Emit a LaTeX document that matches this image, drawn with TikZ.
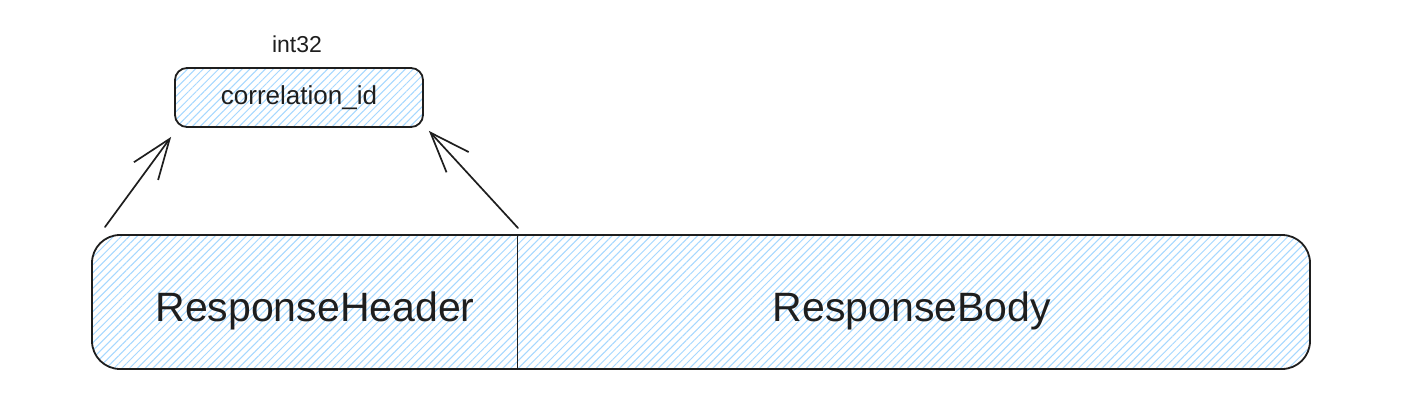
\documentclass[tikz,border=0pt]{standalone}
\usepackage{fontspec}
\setmainfont{Liberation Sans}
\usetikzlibrary{patterns.meta,arrows.meta,calc}
\definecolor{ink}{HTML}{1E1E1E}
\definecolor{hatch}{HTML}{A5D8FF}
\tikzset{
  hbox/.style={draw=ink, line width=1.8pt,
    preaction={fill=white},
    preaction={pattern={Lines[angle=45,distance=5.5pt,line width=1pt]}, pattern color=hatch},
    inner sep=0pt},
  bigtext/.style={font=\fontsize{41}{48}\selectfont, text=ink, inner sep=0pt},
  smalltext/.style={font=\fontsize{26}{30}\selectfont, text=ink, inner sep=0pt},
  typetext/.style={font=\fontsize{23}{27}\selectfont, text=ink, inner sep=0pt},
  conn/.style={draw=ink, line width=1.7pt, line cap=round, line join=round,
    -{Straight Barb[length=40pt,width=30pt,line width=1.7pt]}}
}
\begin{document}
\begin{tikzpicture}[x=1pt,y=-1pt]
\useasboundingbox (0,0) rectangle (1427,420);
% top field
\node[hbox, minimum width=248pt, minimum height=59pt, rounded corners=12pt] (corr) at (299,97.5) {};
\node[smalltext, anchor=base] (corrtext) at (299,104) {correlation\_id};
\node[typetext, anchor=base] (type) at (297,53) {int32};
% big frame
\node[hbox, minimum width=1218pt, minimum height=134pt, rounded corners=28pt] (frame) at (701,302) {};
\coordinate (divtop) at (517.5,235);
\coordinate (divbot) at (517.5,369);
\draw[ink, line width=1.8pt] (divtop) -- (divbot);
\node[bigtext, anchor=base] (header) at (315,321) {ResponseHeader};
\node[bigtext, anchor=base] (body) at (912,321) {ResponseBody};
% arrows
\coordinate (hstart) at (105,227);
\coordinate (dstart) at (518,228);
\draw[conn] (hstart) -- ($(corr.south west)+(-3,9)$);
\draw[conn] (dstart) -- ($(corr.south east)+(5,3)$);
\end{tikzpicture}
\end{document}
